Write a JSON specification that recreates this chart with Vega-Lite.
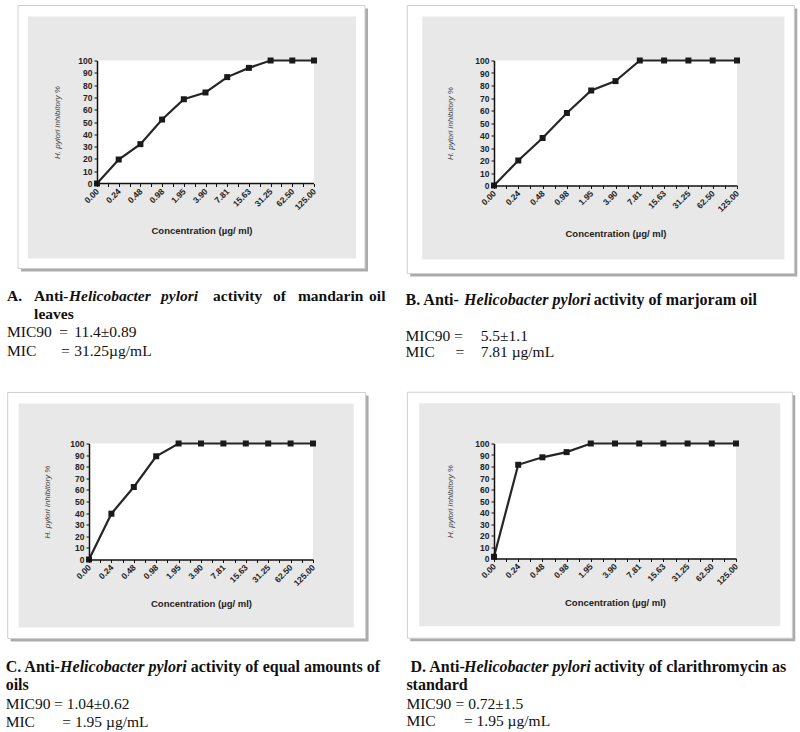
{
"$schema": "https://vega.github.io/schema/vega-lite/v6.json",
"background": "white",
"padding": {"left": 5, "top": 4.5, "right": 0, "bottom": 0},
"datasets": {"inh": [
{"panel":"A","step":0,"conc":"0.00","inhibition":0},{"panel":"A","step":1,"conc":"0.24","inhibition":19.5},{"panel":"A","step":2,"conc":"0.48","inhibition":32},{"panel":"A","step":3,"conc":"0.98","inhibition":52},{"panel":"A","step":4,"conc":"1.95","inhibition":68.5},{"panel":"A","step":5,"conc":"3.90","inhibition":74},{"panel":"A","step":6,"conc":"7.81","inhibition":86.5},{"panel":"A","step":7,"conc":"15.63","inhibition":94},{"panel":"A","step":8,"conc":"31.25","inhibition":100},{"panel":"A","step":9,"conc":"62.50","inhibition":100},{"panel":"A","step":10,"conc":"125.00","inhibition":100},
{"panel":"B","step":0,"conc":"0.00","inhibition":0},{"panel":"B","step":1,"conc":"0.24","inhibition":20},{"panel":"B","step":2,"conc":"0.48","inhibition":38},{"panel":"B","step":3,"conc":"0.98","inhibition":58},{"panel":"B","step":4,"conc":"1.95","inhibition":76},{"panel":"B","step":5,"conc":"3.90","inhibition":83.5},{"panel":"B","step":6,"conc":"7.81","inhibition":100},{"panel":"B","step":7,"conc":"15.63","inhibition":100},{"panel":"B","step":8,"conc":"31.25","inhibition":100},{"panel":"B","step":9,"conc":"62.50","inhibition":100},{"panel":"B","step":10,"conc":"125.00","inhibition":100},
{"panel":"C","step":0,"conc":"0.00","inhibition":0},{"panel":"C","step":1,"conc":"0.24","inhibition":39.5},{"panel":"C","step":2,"conc":"0.48","inhibition":62.5},{"panel":"C","step":3,"conc":"0.98","inhibition":89},{"panel":"C","step":4,"conc":"1.95","inhibition":100},{"panel":"C","step":5,"conc":"3.90","inhibition":100},{"panel":"C","step":6,"conc":"7.81","inhibition":100},{"panel":"C","step":7,"conc":"15.63","inhibition":100},{"panel":"C","step":8,"conc":"31.25","inhibition":100},{"panel":"C","step":9,"conc":"62.50","inhibition":100},{"panel":"C","step":10,"conc":"125.00","inhibition":100},
{"panel":"D","step":0,"conc":"0.00","inhibition":1.5},{"panel":"D","step":1,"conc":"0.24","inhibition":81.5},{"panel":"D","step":2,"conc":"0.48","inhibition":88},{"panel":"D","step":3,"conc":"0.98","inhibition":92.5},{"panel":"D","step":4,"conc":"1.95","inhibition":100},{"panel":"D","step":5,"conc":"3.90","inhibition":100},{"panel":"D","step":6,"conc":"7.81","inhibition":100},{"panel":"D","step":7,"conc":"15.63","inhibition":100},{"panel":"D","step":8,"conc":"31.25","inhibition":100},{"panel":"D","step":9,"conc":"62.50","inhibition":100},{"panel":"D","step":10,"conc":"125.00","inhibition":100}
]},
"spacing": 30,
"vconcat": [
{"spacing": 19, "hconcat": [
{"width": 225, "height": 123, "layer": [
{"data":{"values":[{}]},"mark":{"type":"rect","fill":"#8f8f8f","opacity":0.75},"encoding":{"x":{"datum":-3.50,"type":"quantitative","scale":{"domain":[-0.3687,10],"nice":false,"zero":false},"axis":{"zindex":1,"domain":false,"title":"Concentration (µg/ ml)","values":[0,0.5,1,1.5,2,2.5,3,3.5,4,4.5,5,5.5,6,6.5,7,7.5,8,8.5,9,9.5,10],"tickCount":21,"labelOverlap":false,"titleFontSize":9.5,"titleFontWeight":"bold","titleColor":"#222","titlePadding":14}},"x2":{"datum":12.49},"y":{"datum":142.3,"type":"quantitative","scale":{"domain":[0,100],"nice":false,"zero":false},"axis":{"zindex":1,"offset":-8,"title":"H. pylori  inhibitory %","values":[0,10,20,30,40,50,60,70,80,90,100],"tickCount":11,"labelOverlap":false,"titleFontStyle":"italic","titleFontWeight":"normal","titleFontSize":8,"titleColor":"#444","titlePadding":16,"labelPadding":2}},"y2":{"datum":-71.5}}},
{"data":{"values":[{}]},"mark":{"type":"rect","fill":"white","stroke":"#cfcfcf","strokeWidth":1},"encoding":{"x":{"datum":-3.64,"type":"quantitative","scale":{"domain":[-0.3687,10],"nice":false,"zero":false}},"x2":{"datum":12.35},"y":{"datum":144.7,"type":"quantitative","scale":{"domain":[0,100],"nice":false,"zero":false}},"y2":{"datum":-69.1}}},
{"data":{"values":[{}]},"mark":{"type":"rect","fill":"#e8e8e8"},"encoding":{"x":{"datum":-3.18,"type":"quantitative","scale":{"domain":[-0.3687,10],"nice":false,"zero":false}},"x2":{"datum":11.94},"y":{"datum":135.8,"type":"quantitative","scale":{"domain":[0,100],"nice":false,"zero":false}},"y2":{"datum":-61.0}}},
{"data":{"values":[{}]},"mark":{"type":"rect","fill":"white"},"encoding":{"x":{"datum":0,"type":"quantitative","scale":{"domain":[-0.3687,10],"nice":false,"zero":false}},"x2":{"datum":10},"y":{"datum":0,"type":"quantitative","scale":{"domain":[0,100],"nice":false,"zero":false}},"y2":{"datum":100}}},
{"data":{"values":[{}]},"mark":{"type":"rule","color":"#111","strokeWidth":1.5},"encoding":{"x":{"datum":0,"type":"quantitative","scale":{"domain":[-0.3687,10],"nice":false,"zero":false}},"x2":{"datum":10},"y":{"datum":0,"type":"quantitative","scale":{"domain":[0,100],"nice":false,"zero":false}}}},
{"data":{"name":"inh"},"transform":[{"filter":"datum.panel=='A'"}],"mark":{"type":"line","color":"#262626","strokeWidth":2.2,"point":{"shape":"square","size":36,"filled":true,"color":"#1a1a1a","opacity":1}},"encoding":{"x":{"field":"step","type":"quantitative","scale":{"domain":[-0.3687,10],"nice":false,"zero":false},"axis":{"zindex":1,"domain":false,"title":"Concentration (µg/ ml)","values":[0,0.5,1,1.5,2,2.5,3,3.5,4,4.5,5,5.5,6,6.5,7,7.5,8,8.5,9,9.5,10],"tickCount":21,"labelOverlap":false,"titleFontSize":9.5,"titleFontWeight":"bold","titleColor":"#222","titlePadding":14}},"y":{"field":"inhibition","type":"quantitative","scale":{"domain":[0,100],"nice":false,"zero":false},"axis":{"zindex":1,"offset":-8,"title":"H. pylori  inhibitory %","values":[0,10,20,30,40,50,60,70,80,90,100],"tickCount":11,"labelOverlap":false,"titleFontStyle":"italic","titleFontWeight":"normal","titleFontSize":8,"titleColor":"#444","titlePadding":16,"labelPadding":2}}}},
{"data":{"values":[{}]},"mark":{"type":"text","text":"A.","fontWeight":"bold"},"encoding":{"x":{"datum":-4.15,"type":"quantitative","scale":{"domain":[-0.3687,10],"nice":false,"zero":false}},"y":{"datum":-91.3,"type":"quantitative","scale":{"domain":[0,100],"nice":false,"zero":false}}}},
{"data":{"values":[{}]},"mark":{"type":"text","text":"Anti-","fontWeight":"bold"},"encoding":{"x":{"datum":-2.90,"type":"quantitative","scale":{"domain":[-0.3687,10],"nice":false,"zero":false}},"y":{"datum":-91.3,"type":"quantitative","scale":{"domain":[0,100],"nice":false,"zero":false}}}},
{"data":{"values":[{}]},"mark":{"type":"text","text":"Helicobacter","fontWeight":"bold","fontStyle":"italic"},"encoding":{"x":{"datum":-1.29,"type":"quantitative","scale":{"domain":[-0.3687,10],"nice":false,"zero":false}},"y":{"datum":-91.3,"type":"quantitative","scale":{"domain":[0,100],"nice":false,"zero":false}}}},
{"data":{"values":[{}]},"mark":{"type":"text","text":"pylori","fontWeight":"bold","fontStyle":"italic"},"encoding":{"x":{"datum":2.95,"type":"quantitative","scale":{"domain":[-0.3687,10],"nice":false,"zero":false}},"y":{"datum":-91.3,"type":"quantitative","scale":{"domain":[0,100],"nice":false,"zero":false}}}},
{"data":{"values":[{}]},"mark":{"type":"text","text":"activity","fontWeight":"bold"},"encoding":{"x":{"datum":5.35,"type":"quantitative","scale":{"domain":[-0.3687,10],"nice":false,"zero":false}},"y":{"datum":-91.3,"type":"quantitative","scale":{"domain":[0,100],"nice":false,"zero":false}}}},
{"data":{"values":[{}]},"mark":{"type":"text","text":"of","fontWeight":"bold"},"encoding":{"x":{"datum":8.11,"type":"quantitative","scale":{"domain":[-0.3687,10],"nice":false,"zero":false}},"y":{"datum":-91.3,"type":"quantitative","scale":{"domain":[0,100],"nice":false,"zero":false}}}},
{"data":{"values":[{}]},"mark":{"type":"text","text":"mandarin","fontWeight":"bold"},"encoding":{"x":{"datum":9.26,"type":"quantitative","scale":{"domain":[-0.3687,10],"nice":false,"zero":false}},"y":{"datum":-91.3,"type":"quantitative","scale":{"domain":[0,100],"nice":false,"zero":false}}}},
{"data":{"values":[{}]},"mark":{"type":"text","text":"oil","fontWeight":"bold"},"encoding":{"x":{"datum":12.54,"type":"quantitative","scale":{"domain":[-0.3687,10],"nice":false,"zero":false}},"y":{"datum":-91.3,"type":"quantitative","scale":{"domain":[0,100],"nice":false,"zero":false}}}},
{"data":{"values":[{}]},"mark":{"type":"text","text":"leaves","fontWeight":"bold"},"encoding":{"x":{"datum":-2.90,"type":"quantitative","scale":{"domain":[-0.3687,10],"nice":false,"zero":false}},"y":{"datum":-106.3,"type":"quantitative","scale":{"domain":[0,100],"nice":false,"zero":false}}}},
{"data":{"values":[{}]},"mark":{"type":"text","text":"MIC90"},"encoding":{"x":{"datum":-4.15,"type":"quantitative","scale":{"domain":[-0.3687,10],"nice":false,"zero":false}},"y":{"datum":-121.1,"type":"quantitative","scale":{"domain":[0,100],"nice":false,"zero":false}}}},
{"data":{"values":[{}]},"mark":{"type":"text","text":"="},"encoding":{"x":{"datum":-1.74,"type":"quantitative","scale":{"domain":[-0.3687,10],"nice":false,"zero":false}},"y":{"datum":-121.1,"type":"quantitative","scale":{"domain":[0,100],"nice":false,"zero":false}}}},
{"data":{"values":[{}]},"mark":{"type":"text","text":"11.4±0.89"},"encoding":{"x":{"datum":-1.05,"type":"quantitative","scale":{"domain":[-0.3687,10],"nice":false,"zero":false}},"y":{"datum":-121.1,"type":"quantitative","scale":{"domain":[0,100],"nice":false,"zero":false}}}},
{"data":{"values":[{}]},"mark":{"type":"text","text":"MIC"},"encoding":{"x":{"datum":-4.15,"type":"quantitative","scale":{"domain":[-0.3687,10],"nice":false,"zero":false}},"y":{"datum":-136.0,"type":"quantitative","scale":{"domain":[0,100],"nice":false,"zero":false}}}},
{"data":{"values":[{}]},"mark":{"type":"text","text":"="},"encoding":{"x":{"datum":-1.66,"type":"quantitative","scale":{"domain":[-0.3687,10],"nice":false,"zero":false}},"y":{"datum":-136.0,"type":"quantitative","scale":{"domain":[0,100],"nice":false,"zero":false}}}},
{"data":{"values":[{}]},"mark":{"type":"text","text":"31.25µg/mL"},"encoding":{"x":{"datum":-1.05,"type":"quantitative","scale":{"domain":[-0.3687,10],"nice":false,"zero":false}},"y":{"datum":-136.0,"type":"quantitative","scale":{"domain":[0,100],"nice":false,"zero":false}}}}
]},
{"width": 243, "height": 125, "layer": [
{"data":{"values":[{}]},"mark":{"type":"rect","fill":"#8f8f8f","opacity":0.75},"encoding":{"x":{"datum":-3.45,"type":"quantitative","scale":{"domain":[0,10],"nice":false,"zero":false},"axis":{"zindex":1,"title":"Concentration (µg/ ml)","values":[0,0.5,1,1.5,2,2.5,3,3.5,4,4.5,5,5.5,6,6.5,7,7.5,8,8.5,9,9.5,10],"tickCount":21,"labelOverlap":false,"titleFontSize":9.5,"titleFontWeight":"bold","titleColor":"#222","titlePadding":15}},"x2":{"datum":12.48},"y":{"datum":141.6,"type":"quantitative","scale":{"domain":[0,100],"nice":false,"zero":false},"axis":{"zindex":1,"title":"H. pylori  inhibitory %","values":[0,10,20,30,40,50,60,70,80,90,100],"tickCount":11,"labelOverlap":false,"titleFontStyle":"italic","titleFontWeight":"normal","titleFontSize":8,"titleColor":"#444","titlePadding":20,"labelPadding":2}},"y2":{"datum":-72.8}}},
{"data":{"values":[{}]},"mark":{"type":"rect","fill":"white","stroke":"#cfcfcf","strokeWidth":1},"encoding":{"x":{"datum":-3.57,"type":"quantitative","scale":{"domain":[0,10],"nice":false,"zero":false}},"x2":{"datum":12.36},"y":{"datum":144,"type":"quantitative","scale":{"domain":[0,100],"nice":false,"zero":false}},"y2":{"datum":-70.4}}},
{"data":{"values":[{}]},"mark":{"type":"rect","fill":"#e8e8e8"},"encoding":{"x":{"datum":-2.95,"type":"quantitative","scale":{"domain":[0,10],"nice":false,"zero":false}},"x2":{"datum":11.95},"y":{"datum":135.2,"type":"quantitative","scale":{"domain":[0,100],"nice":false,"zero":false}},"y2":{"datum":-59.2}}},
{"data":{"values":[{}]},"mark":{"type":"rect","fill":"white"},"encoding":{"x":{"datum":0,"type":"quantitative","scale":{"domain":[0,10],"nice":false,"zero":false}},"x2":{"datum":10},"y":{"datum":0,"type":"quantitative","scale":{"domain":[0,100],"nice":false,"zero":false}},"y2":{"datum":100}}},
{"data":{"name":"inh"},"transform":[{"filter":"datum.panel=='B'"}],"mark":{"type":"line","color":"#262626","strokeWidth":2.2,"point":{"shape":"square","size":36,"filled":true,"color":"#1a1a1a","opacity":1}},"encoding":{"x":{"field":"step","type":"quantitative","scale":{"domain":[0,10],"nice":false,"zero":false},"axis":{"zindex":1,"title":"Concentration (µg/ ml)","values":[0,0.5,1,1.5,2,2.5,3,3.5,4,4.5,5,5.5,6,6.5,7,7.5,8,8.5,9,9.5,10],"tickCount":21,"labelOverlap":false,"titleFontSize":9.5,"titleFontWeight":"bold","titleColor":"#222","titlePadding":15}},"y":{"field":"inhibition","type":"quantitative","scale":{"domain":[0,100],"nice":false,"zero":false},"axis":{"zindex":1,"title":"H. pylori  inhibitory %","values":[0,10,20,30,40,50,60,70,80,90,100],"tickCount":11,"labelOverlap":false,"titleFontStyle":"italic","titleFontWeight":"normal","titleFontSize":8,"titleColor":"#444","titlePadding":20,"labelPadding":2}}}},
{"data":{"values":[{}]},"mark":{"type":"text","text":"B. Anti-","fontWeight":"bold","fontSize":16},"encoding":{"x":{"datum":-3.64,"type":"quantitative","scale":{"domain":[0,10],"nice":false,"zero":false}},"y":{"datum":-91.2,"type":"quantitative","scale":{"domain":[0,100],"nice":false,"zero":false}}}},
{"data":{"values":[{}]},"mark":{"type":"text","text":"Helicobacter pylori","fontWeight":"bold","fontStyle":"italic","fontSize":16},"encoding":{"x":{"datum":-1.23,"type":"quantitative","scale":{"domain":[0,10],"nice":false,"zero":false}},"y":{"datum":-91.2,"type":"quantitative","scale":{"domain":[0,100],"nice":false,"zero":false}}}},
{"data":{"values":[{}]},"mark":{"type":"text","text":"activity of marjoram oil","fontWeight":"bold","fontSize":16},"encoding":{"x":{"datum":4.11,"type":"quantitative","scale":{"domain":[0,10],"nice":false,"zero":false}},"y":{"datum":-91.2,"type":"quantitative","scale":{"domain":[0,100],"nice":false,"zero":false}}}},
{"data":{"values":[{}]},"mark":{"type":"text","text":"MIC90"},"encoding":{"x":{"datum":-3.64,"type":"quantitative","scale":{"domain":[0,10],"nice":false,"zero":false}},"y":{"datum":-120,"type":"quantitative","scale":{"domain":[0,100],"nice":false,"zero":false}}}},
{"data":{"values":[{}]},"mark":{"type":"text","text":"="},"encoding":{"x":{"datum":-1.65,"type":"quantitative","scale":{"domain":[0,10],"nice":false,"zero":false}},"y":{"datum":-120,"type":"quantitative","scale":{"domain":[0,100],"nice":false,"zero":false}}}},
{"data":{"values":[{}]},"mark":{"type":"text","text":"5.5±1.1"},"encoding":{"x":{"datum":-0.55,"type":"quantitative","scale":{"domain":[0,10],"nice":false,"zero":false}},"y":{"datum":-120,"type":"quantitative","scale":{"domain":[0,100],"nice":false,"zero":false}}}},
{"data":{"values":[{}]},"mark":{"type":"text","text":"MIC"},"encoding":{"x":{"datum":-3.64,"type":"quantitative","scale":{"domain":[0,10],"nice":false,"zero":false}},"y":{"datum":-133.4,"type":"quantitative","scale":{"domain":[0,100],"nice":false,"zero":false}}}},
{"data":{"values":[{}]},"mark":{"type":"text","text":"="},"encoding":{"x":{"datum":-1.58,"type":"quantitative","scale":{"domain":[0,10],"nice":false,"zero":false}},"y":{"datum":-133.4,"type":"quantitative","scale":{"domain":[0,100],"nice":false,"zero":false}}}},
{"data":{"values":[{}]},"mark":{"type":"text","text":"7.81 µg/mL"},"encoding":{"x":{"datum":-0.55,"type":"quantitative","scale":{"domain":[0,10],"nice":false,"zero":false}},"y":{"datum":-133.4,"type":"quantitative","scale":{"domain":[0,100],"nice":false,"zero":false}}}}
]}
]},
{"spacing": 25, "hconcat": [
{"width": 224, "height": 116, "layer": [
{"data":{"values":[{}]},"mark":{"type":"rect","fill":"#8f8f8f","opacity":0.75},"encoding":{"x":{"datum":-3.50,"type":"quantitative","scale":{"domain":[0,10],"nice":false,"zero":false},"axis":{"zindex":1,"title":"Concentration (µg/ ml)","values":[0,0.5,1,1.5,2,2.5,3,3.5,4,4.5,5,5.5,6,6.5,7,7.5,8,8.5,9,9.5,10],"tickCount":21,"labelOverlap":false,"titleFontSize":9.5,"titleFontWeight":"bold","titleColor":"#222","titlePadding":11}},"x2":{"datum":12.48},"y":{"datum":141.4,"type":"quantitative","scale":{"domain":[0,100],"nice":false,"zero":false},"axis":{"zindex":1,"title":"H. pylori  inhibitory %","values":[0,10,20,30,40,50,60,70,80,90,100],"tickCount":11,"labelOverlap":false,"titleFontStyle":"italic","titleFontWeight":"normal","titleFontSize":8,"titleColor":"#444","titlePadding":18,"labelPadding":2}},"y2":{"datum":-70.7}}},
{"data":{"values":[{}]},"mark":{"type":"rect","fill":"white","stroke":"#cfcfcf","strokeWidth":1},"encoding":{"x":{"datum":-3.63,"type":"quantitative","scale":{"domain":[0,10],"nice":false,"zero":false}},"x2":{"datum":12.35},"y":{"datum":144,"type":"quantitative","scale":{"domain":[0,100],"nice":false,"zero":false}},"y2":{"datum":-68.1}}},
{"data":{"values":[{}]},"mark":{"type":"rect","fill":"#e8e8e8"},"encoding":{"x":{"datum":-3.14,"type":"quantitative","scale":{"domain":[0,10],"nice":false,"zero":false}},"x2":{"datum":11.82},"y":{"datum":134.5,"type":"quantitative","scale":{"domain":[0,100],"nice":false,"zero":false}},"y2":{"datum":-58.6}}},
{"data":{"values":[{}]},"mark":{"type":"rect","fill":"white"},"encoding":{"x":{"datum":0,"type":"quantitative","scale":{"domain":[0,10],"nice":false,"zero":false}},"x2":{"datum":10},"y":{"datum":0,"type":"quantitative","scale":{"domain":[0,100],"nice":false,"zero":false}},"y2":{"datum":100}}},
{"data":{"name":"inh"},"transform":[{"filter":"datum.panel=='C'"}],"mark":{"type":"line","color":"#262626","strokeWidth":2.2,"point":{"shape":"square","size":36,"filled":true,"color":"#1a1a1a","opacity":1}},"encoding":{"x":{"field":"step","type":"quantitative","scale":{"domain":[0,10],"nice":false,"zero":false},"axis":{"zindex":1,"title":"Concentration (µg/ ml)","values":[0,0.5,1,1.5,2,2.5,3,3.5,4,4.5,5,5.5,6,6.5,7,7.5,8,8.5,9,9.5,10],"tickCount":21,"labelOverlap":false,"titleFontSize":9.5,"titleFontWeight":"bold","titleColor":"#222","titlePadding":11}},"y":{"field":"inhibition","type":"quantitative","scale":{"domain":[0,100],"nice":false,"zero":false},"axis":{"zindex":1,"title":"H. pylori  inhibitory %","values":[0,10,20,30,40,50,60,70,80,90,100],"tickCount":11,"labelOverlap":false,"titleFontStyle":"italic","titleFontWeight":"normal","titleFontSize":8,"titleColor":"#444","titlePadding":18,"labelPadding":2}}}},
{"data":{"values":[{}]},"mark":{"type":"text","text":"C. Anti-","fontWeight":"bold","fontSize":16},"encoding":{"x":{"datum":-3.72,"type":"quantitative","scale":{"domain":[0,10],"nice":false,"zero":false}},"y":{"datum":-92.8,"type":"quantitative","scale":{"domain":[0,100],"nice":false,"zero":false}}}},
{"data":{"values":[{}]},"mark":{"type":"text","text":"Helicobacter pylori","fontWeight":"bold","fontStyle":"italic","fontSize":16},"encoding":{"x":{"datum":-1.29,"type":"quantitative","scale":{"domain":[0,10],"nice":false,"zero":false}},"y":{"datum":-92.8,"type":"quantitative","scale":{"domain":[0,100],"nice":false,"zero":false}}}},
{"data":{"values":[{}]},"mark":{"type":"text","text":"activity of equal amounts of","fontWeight":"bold","fontSize":16},"encoding":{"x":{"datum":4.54,"type":"quantitative","scale":{"domain":[0,10],"nice":false,"zero":false}},"y":{"datum":-92.8,"type":"quantitative","scale":{"domain":[0,100],"nice":false,"zero":false}}}},
{"data":{"values":[{}]},"mark":{"type":"text","text":"oils","fontWeight":"bold","fontSize":16},"encoding":{"x":{"datum":-3.72,"type":"quantitative","scale":{"domain":[0,10],"nice":false,"zero":false}},"y":{"datum":-108.6,"type":"quantitative","scale":{"domain":[0,100],"nice":false,"zero":false}}}},
{"data":{"values":[{}]},"mark":{"type":"text","text":"MIC90"},"encoding":{"x":{"datum":-3.72,"type":"quantitative","scale":{"domain":[0,10],"nice":false,"zero":false}},"y":{"datum":-124.4,"type":"quantitative","scale":{"domain":[0,100],"nice":false,"zero":false}}}},
{"data":{"values":[{}]},"mark":{"type":"text","text":"= 1.04±0.62"},"encoding":{"x":{"datum":-1.56,"type":"quantitative","scale":{"domain":[0,10],"nice":false,"zero":false}},"y":{"datum":-124.4,"type":"quantitative","scale":{"domain":[0,100],"nice":false,"zero":false}}}},
{"data":{"values":[{}]},"mark":{"type":"text","text":"MIC"},"encoding":{"x":{"datum":-3.72,"type":"quantitative","scale":{"domain":[0,10],"nice":false,"zero":false}},"y":{"datum":-139.7,"type":"quantitative","scale":{"domain":[0,100],"nice":false,"zero":false}}}},
{"data":{"values":[{}]},"mark":{"type":"text","text":"= 1.95 µg/mL"},"encoding":{"x":{"datum":-1.19,"type":"quantitative","scale":{"domain":[0,10],"nice":false,"zero":false}},"y":{"datum":-139.7,"type":"quantitative","scale":{"domain":[0,100],"nice":false,"zero":false}}}}
]},
{"width": 242, "height": 115, "layer": [
{"data":{"values":[{}]},"mark":{"type":"rect","fill":"#8f8f8f","opacity":0.75},"encoding":{"x":{"datum":-3.46,"type":"quantitative","scale":{"domain":[0,10],"nice":false,"zero":false},"axis":{"zindex":1,"title":"Concentration (µg/ ml)","values":[0,0.5,1,1.5,2,2.5,3,3.5,4,4.5,5,5.5,6,6.5,7,7.5,8,8.5,9,9.5,10],"tickCount":21,"labelOverlap":false,"titleFontSize":9.5,"titleFontWeight":"bold","titleColor":"#222","titlePadding":11}},"x2":{"datum":12.45},"y":{"datum":142,"type":"quantitative","scale":{"domain":[0,100],"nice":false,"zero":false},"axis":{"zindex":1,"title":"H. pylori  inhibitory %","values":[0,10,20,30,40,50,60,70,80,90,100],"tickCount":11,"labelOverlap":false,"titleFontStyle":"italic","titleFontWeight":"normal","titleFontSize":8,"titleColor":"#444","titlePadding":20,"labelPadding":2}},"y2":{"datum":-71.9}}},
{"data":{"values":[{}]},"mark":{"type":"rect","fill":"white","stroke":"#cfcfcf","strokeWidth":1},"encoding":{"x":{"datum":-3.58,"type":"quantitative","scale":{"domain":[0,10],"nice":false,"zero":false}},"x2":{"datum":12.33},"y":{"datum":144.6,"type":"quantitative","scale":{"domain":[0,100],"nice":false,"zero":false}},"y2":{"datum":-69.3}}},
{"data":{"values":[{}]},"mark":{"type":"rect","fill":"#e8e8e8"},"encoding":{"x":{"datum":-3.09,"type":"quantitative","scale":{"domain":[0,10],"nice":false,"zero":false}},"x2":{"datum":11.83},"y":{"datum":135.1,"type":"quantitative","scale":{"domain":[0,100],"nice":false,"zero":false}},"y2":{"datum":-58.9}}},
{"data":{"values":[{}]},"mark":{"type":"rect","fill":"white"},"encoding":{"x":{"datum":0,"type":"quantitative","scale":{"domain":[0,10],"nice":false,"zero":false}},"x2":{"datum":10},"y":{"datum":0,"type":"quantitative","scale":{"domain":[0,100],"nice":false,"zero":false}},"y2":{"datum":100}}},
{"data":{"name":"inh"},"transform":[{"filter":"datum.panel=='D'"}],"mark":{"type":"line","color":"#262626","strokeWidth":2.2,"point":{"shape":"square","size":36,"filled":true,"color":"#1a1a1a","opacity":1}},"encoding":{"x":{"field":"step","type":"quantitative","scale":{"domain":[0,10],"nice":false,"zero":false},"axis":{"zindex":1,"title":"Concentration (µg/ ml)","values":[0,0.5,1,1.5,2,2.5,3,3.5,4,4.5,5,5.5,6,6.5,7,7.5,8,8.5,9,9.5,10],"tickCount":21,"labelOverlap":false,"titleFontSize":9.5,"titleFontWeight":"bold","titleColor":"#222","titlePadding":11}},"y":{"field":"inhibition","type":"quantitative","scale":{"domain":[0,100],"nice":false,"zero":false},"axis":{"zindex":1,"title":"H. pylori  inhibitory %","values":[0,10,20,30,40,50,60,70,80,90,100],"tickCount":11,"labelOverlap":false,"titleFontStyle":"italic","titleFontWeight":"normal","titleFontSize":8,"titleColor":"#444","titlePadding":20,"labelPadding":2}}}},
{"data":{"values":[{}]},"mark":{"type":"text","text":"D. Anti-","fontWeight":"bold","fontSize":16},"encoding":{"x":{"datum":-3.45,"type":"quantitative","scale":{"domain":[0,10],"nice":false,"zero":false}},"y":{"datum":-94.3,"type":"quantitative","scale":{"domain":[0,100],"nice":false,"zero":false}}}},
{"data":{"values":[{}]},"mark":{"type":"text","text":"Helicobacter pylori","fontWeight":"bold","fontStyle":"italic","fontSize":16},"encoding":{"x":{"datum":-1.24,"type":"quantitative","scale":{"domain":[0,10],"nice":false,"zero":false}},"y":{"datum":-94.3,"type":"quantitative","scale":{"domain":[0,100],"nice":false,"zero":false}}}},
{"data":{"values":[{}]},"mark":{"type":"text","text":"activity of clarithromycin as","fontWeight":"bold","fontSize":16},"encoding":{"x":{"datum":4.14,"type":"quantitative","scale":{"domain":[0,10],"nice":false,"zero":false}},"y":{"datum":-94.3,"type":"quantitative","scale":{"domain":[0,100],"nice":false,"zero":false}}}},
{"data":{"values":[{}]},"mark":{"type":"text","text":"standard","fontWeight":"bold","fontSize":16},"encoding":{"x":{"datum":-3.62,"type":"quantitative","scale":{"domain":[0,10],"nice":false,"zero":false}},"y":{"datum":-110.2,"type":"quantitative","scale":{"domain":[0,100],"nice":false,"zero":false}}}},
{"data":{"values":[{}]},"mark":{"type":"text","text":"MIC90"},"encoding":{"x":{"datum":-3.62,"type":"quantitative","scale":{"domain":[0,10],"nice":false,"zero":false}},"y":{"datum":-126.1,"type":"quantitative","scale":{"domain":[0,100],"nice":false,"zero":false}}}},
{"data":{"values":[{}]},"mark":{"type":"text","text":"= 0.72±1.5"},"encoding":{"x":{"datum":-1.59,"type":"quantitative","scale":{"domain":[0,10],"nice":false,"zero":false}},"y":{"datum":-126.1,"type":"quantitative","scale":{"domain":[0,100],"nice":false,"zero":false}}}},
{"data":{"values":[{}]},"mark":{"type":"text","text":"MIC"},"encoding":{"x":{"datum":-3.62,"type":"quantitative","scale":{"domain":[0,10],"nice":false,"zero":false}},"y":{"datum":-141.5,"type":"quantitative","scale":{"domain":[0,100],"nice":false,"zero":false}}}},
{"data":{"values":[{}]},"mark":{"type":"text","text":"= 1.95 µg/mL"},"encoding":{"x":{"datum":-1.24,"type":"quantitative","scale":{"domain":[0,10],"nice":false,"zero":false}},"y":{"datum":-141.5,"type":"quantitative","scale":{"domain":[0,100],"nice":false,"zero":false}}}}
]}
]}
],
"config": {
"view": {"stroke": null},
"axis": {"grid": false, "labelOverlap": false, "domainColor": "#111", "domainWidth": 1.5, "tickColor": "#111", "tickSize": 3, "tickWidth": 1, "labelFont": "Liberation Sans", "labelFontWeight": "bold", "labelFontSize": 8.5, "labelColor": "#222", "titleFont": "Liberation Sans"},
"axisX": {"tickCount": 21, "labelAngle": -45, "labelAlign": "right", "labelBaseline": "middle", "labelPadding": 3, "labelFlush": false, "labelExpr": "datum.value % 1 == 0 ? ['0.00','0.24','0.48','0.98','1.95','3.90','7.81','15.63','31.25','62.50','125.00'][datum.value] : ''"},
"axisY": {"tickCount": 11},
"text": {"font": "Liberation Serif", "fontSize": 15.5, "fontWeight": "normal", "align": "left", "baseline": "middle", "color": "#111"}
}
}
